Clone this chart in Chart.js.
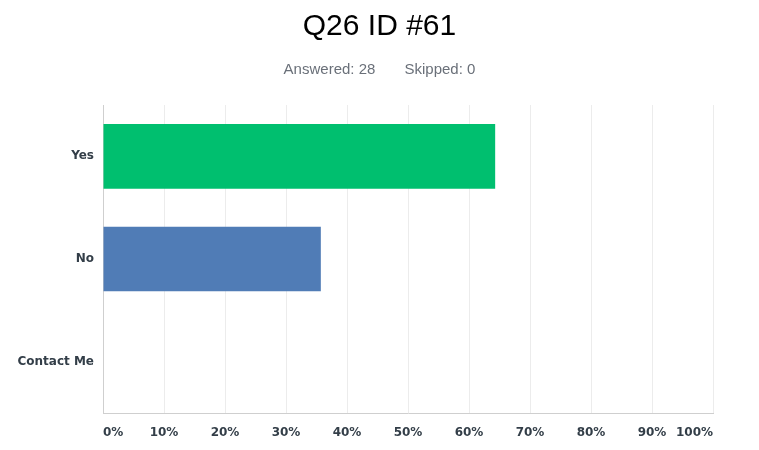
<!DOCTYPE html>
<html>
<head>
<meta charset="utf-8">
<script src="https://cdn.jsdelivr.net/npm/chart.js@4/dist/chart.umd.min.js"></script>
<style>
  html, body { margin: 0; padding: 0; background: #fff; }
  #wrap { width: 759px; height: 450px; }
</style>
</head>
<body>
<div id="wrap"><canvas id="surveyChart" width="759" height="450"></canvas></div>
<script>
var answers = ["Yes", "No", "Contact Me"];
var percentages = [64.29, 35.71, 0];
var barColors = ["#00bf6f", "#507cb6", "#f2a900"];
var percentTicks = [0, 10, 20, 30, 40, 50, 60, 70, 80, 90, 100];

var ctx = document.getElementById("surveyChart").getContext('2d');

var surveyChart = new Chart(ctx, {
  type: 'bar',
  data: {
    labels: answers,
    datasets: [{
      data: percentages,
      backgroundColor: barColors,
      borderWidth: 0,
      barPercentage: 1,
      categoryPercentage: 0.63
    }]
  },
  options: {
    indexAxis: 'y',
    responsive: false,
    animation: false,
    layout: {
      padding: { left: 0, right: 0, top: 0, bottom: 0 }
    },
    plugins: {
      legend: { display: false },
      tooltip: { enabled: false },
      title: {
        display: true,
        text: 'Q26 ID #61',
        color: '#000',
        font: { family: 'Liberation Sans, Arial, sans-serif', size: 30, weight: 'normal' },
        padding: { top: 9, bottom: 16 }
      },
      subtitle: {
        display: true,
        text: 'Answered: 28       Skipped: 0',
        color: '#6a7079',
        font: { family: 'Liberation Sans, Arial, sans-serif', size: 15 },
        padding: { top: 0, bottom: 26 }
      }
    },
    scales: {
      x: {
        min: 0,
        max: 100,
        afterBuildTicks: function(axis) {
          axis.ticks = percentTicks.map(function(v) { return { value: v }; });
        },
        afterFit: function(axis) {
          axis.height = 37;
          axis.paddingRight = 46;
        },
        ticks: {
          align: 'inner',
          padding: 13,
          color: '#333e48',
          font: { family: 'DejaVu Sans, sans-serif', size: 12, weight: 'bold' },
          callback: function(v) { return v + '%'; }
        },
        grid: {
          color: '#ececec',
          lineWidth: 1,
          drawTicks: false
        },
        border: { color: '#cfcfcf', width: 1 }
      },
      y: {
        afterFit: function(axis) { axis.width = 103; },
        ticks: {
          padding: 9,
          color: '#333e48',
          font: { family: 'DejaVu Sans, sans-serif', size: 12, weight: 'bold' }
        },
        grid: { display: false, drawTicks: false },
        border: { color: '#cfcfcf', width: 1 }
      }
    }
  }
});
</script>
</body>
</html>
